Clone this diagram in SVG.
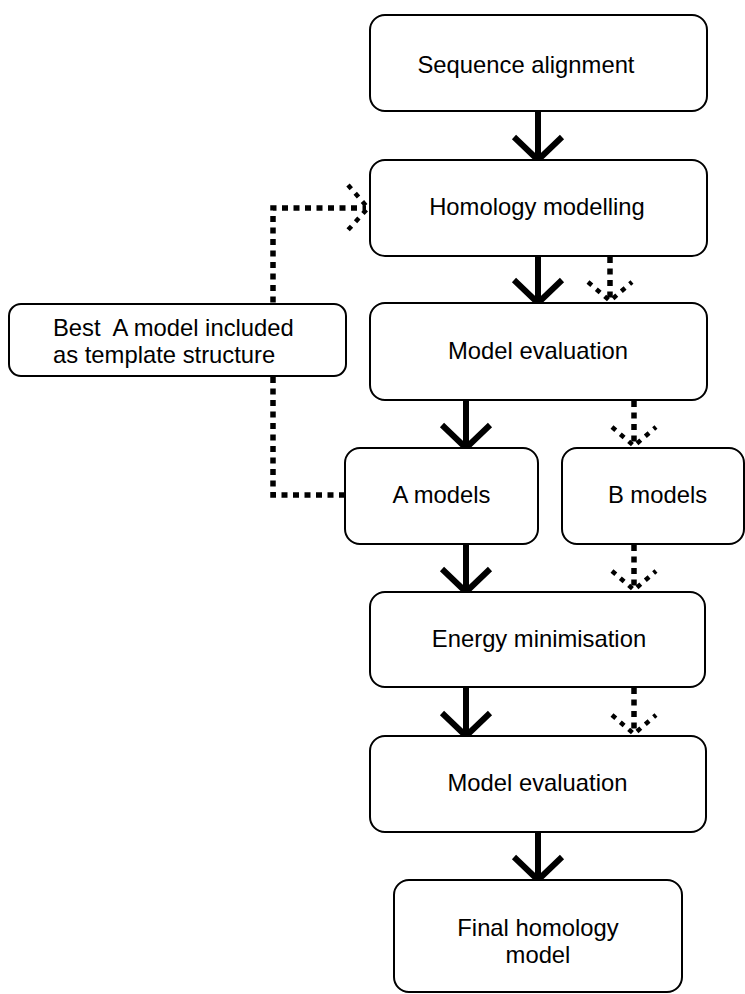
<svg xmlns="http://www.w3.org/2000/svg" width="745" height="994" viewBox="0 0 745 994">
  <style>
    .box { fill: #ffffff; stroke: #000000; stroke-width: 2; }
    .lbl { font-family: "Liberation Sans", Arial, sans-serif; font-size: 23.8px; fill: #000000; text-anchor: middle; }
    .lbl-left { font-family: "Liberation Sans", Arial, sans-serif; font-size: 23.8px; fill: #000000; white-space: pre; }
    .solid { fill: none; stroke: #000000; stroke-width: 6; stroke-linecap: butt; }
    .dot { fill: none; stroke: #000000; stroke-width: 5.5; stroke-dasharray: 6 5.5; }
    .dothead { fill: none; stroke: #000000; stroke-width: 4.5; stroke-dasharray: 5 6; }
  </style>

  <!-- connectors (drawn first so boxes sit on top) -->
  <g id="connectors">
    <!-- solid flow -->
    <line class="solid" x1="538" y1="111" x2="538" y2="159"/>
    <polyline class="solid" points="514,137 538,160 562,137"/>

    <line class="solid" x1="538" y1="256" x2="538" y2="302"/>
    <polyline class="solid" points="514,280 538,303 562,280"/>

    <line class="solid" x1="466" y1="400" x2="466" y2="447"/>
    <polyline class="solid" points="442,425 466,448 490,425"/>

    <line class="solid" x1="466" y1="544" x2="466" y2="591"/>
    <polyline class="solid" points="442,569 466,592 490,569"/>

    <line class="solid" x1="466" y1="687" x2="466" y2="735"/>
    <polyline class="solid" points="442,713 466,736 490,713"/>

    <line class="solid" x1="538" y1="832" x2="538" y2="879"/>
    <polyline class="solid" points="514,857 538,880 562,857"/>

    <!-- dotted flow -->
    <line class="dot" x1="610" y1="257" x2="610" y2="300"/>
    <polyline class="dothead" points="588,282 610,301 632,282"/>

    <line class="dot" x1="634" y1="401" x2="634" y2="445"/>
    <polyline class="dothead" points="612,427 634,446 656,427"/>

    <line class="dot" x1="634" y1="545" x2="634" y2="589"/>
    <polyline class="dothead" points="612,571 634,590 656,571"/>

    <line class="dot" x1="634" y1="688" x2="634" y2="733"/>
    <polyline class="dothead" points="612,715 634,734 656,715"/>

    <!-- feedback loop from A models back to homology modelling -->
    <polyline class="dot" points="345,495 273,495 273,208 366,208"/>
    <polyline class="dothead" points="348,185 368,208 348,230"/>
  </g>

  <g id="seq-align">
    <rect class="box" x="370" y="15" width="337" height="96" rx="15"/>
    <text class="lbl" x="526" y="73">Sequence alignment</text>
  </g>

  <g id="homology">
    <rect class="box" x="370" y="160" width="337" height="96" rx="15"/>
    <text class="lbl" x="537" y="215">Homology modelling</text>
  </g>

  <g id="model-eval-1">
    <rect class="box" x="370" y="303" width="337" height="97" rx="15"/>
    <text class="lbl" x="538" y="359">Model evaluation</text>
  </g>

  <g id="a-models">
    <rect class="box" x="345" y="448" width="193" height="96" rx="15"/>
    <text class="lbl" x="441.5" y="503">A models</text>
  </g>

  <g id="b-models">
    <rect class="box" x="562" y="448" width="182" height="96" rx="15"/>
    <text class="lbl" x="657.5" y="503">B models</text>
  </g>

  <g id="best-a">
    <rect class="box" x="9" y="304" width="337" height="72" rx="12"/>
    <text class="lbl-left" x="53" y="336">Best  A model included</text>
    <text class="lbl-left" x="53" y="363">as template structure</text>
  </g>

  <g id="energy-min">
    <rect class="box" x="370" y="592" width="335" height="95" rx="15"/>
    <text class="lbl" x="539" y="647">Energy minimisation</text>
  </g>

  <g id="model-eval-2">
    <rect class="box" x="370" y="736" width="336" height="96" rx="15"/>
    <text class="lbl" x="537.5" y="791">Model evaluation</text>
  </g>

  <g id="final-model">
    <rect class="box" x="394" y="880" width="288" height="112" rx="15"/>
    <text class="lbl" x="538" y="936">Final homology</text>
    <text class="lbl" x="538" y="963">model</text>
  </g>
</svg>
